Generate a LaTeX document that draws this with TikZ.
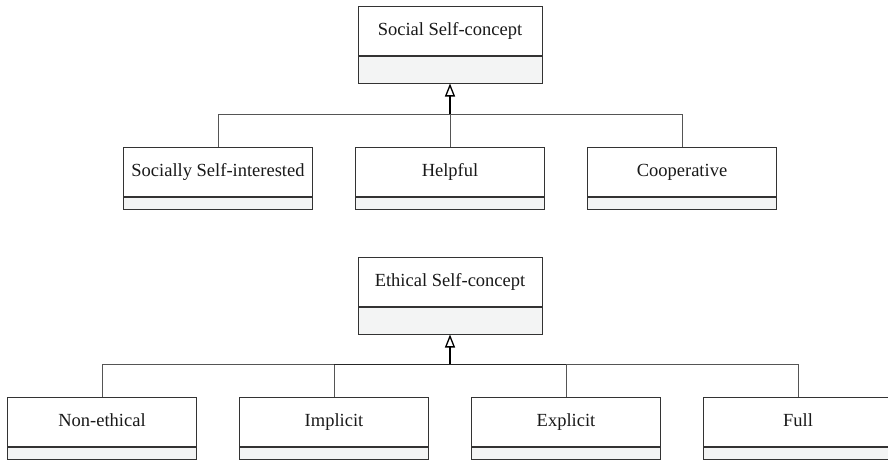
\documentclass[tikz,border=0pt]{standalone}
\usepackage{fontspec}
\setmainfont{Liberation Serif}
\usetikzlibrary{arrows.meta}
\definecolor{boxline}{HTML}{333333}
\definecolor{linkline}{HTML}{555555}
\definecolor{compfill}{HTML}{F3F4F4}
\tikzset{
  classname/.style={draw=boxline, line width=1pt, fill=white, minimum height=49pt,
    inner sep=0pt, text height=13pt, text depth=3pt,
    font=\fontsize{18.5}{20}\selectfont, text=black!90},
  classops/.style={draw=boxline, line width=1pt, fill=compfill, inner sep=0pt,
    anchor=north},
  link/.style={draw=linkline, line width=1pt},
  generalization/.style={draw=black, line width=1.5pt,
    -{Triangle[open, width=10pt, length=13pt, line width=1.3pt]}, fill=white}
}
\begin{document}
\begin{tikzpicture}[x=1pt, y=-1pt]
\useasboundingbox (0,0) rectangle (888,459);
\clip (0,0) rectangle (888,459);

% Social self-concept hierarchy
\node[classname, minimum width=184pt] (social) at (450,30.5) {Social Self-concept};
\node[classops, minimum width=184pt, minimum height=27pt] (socialops) at (social.south) {};

\node[classname, minimum width=189pt] (selfint) at (218,171.5) {Socially Self-interested};
\node[classops, minimum width=189pt, minimum height=12pt] (selfintops) at (selfint.south) {};
\node[classname, minimum width=189pt] (helpful) at (450,171.5) {Helpful};
\node[classops, minimum width=189pt, minimum height=12pt] (helpfulops) at (helpful.south) {};
\node[classname, minimum width=189pt] (coop) at (682,171.5) {Cooperative};
\node[classops, minimum width=189pt, minimum height=12pt] (coopops) at (coop.south) {};

\coordinate (socialbus) at (450,114);
\draw[link] (selfint.north) |- (socialbus);
\draw[link] (coop.north) |- (socialbus);
\draw[link] (helpful.north) -- (socialbus);
\draw[generalization] (socialbus) -- (socialops.south);

% Ethical self-concept hierarchy
\node[classname, minimum width=184pt] (ethical) at (450,281.5) {Ethical Self-concept};
\node[classops, minimum width=184pt, minimum height=27pt] (ethicalops) at (ethical.south) {};

\node[classname, minimum width=189pt] (nonethical) at (102,421.5) {Non-ethical};
\node[classops, minimum width=189pt, minimum height=12pt] (nonethicalops) at (nonethical.south) {};
\node[classname, minimum width=189pt] (implicit) at (334,421.5) {Implicit};
\node[classops, minimum width=189pt, minimum height=12pt] (implicitops) at (implicit.south) {};
\node[classname, minimum width=189pt] (explicit) at (566,421.5) {Explicit};
\node[classops, minimum width=189pt, minimum height=12pt] (explicitops) at (explicit.south) {};
\node[classname, minimum width=189pt] (full) at (798,421.5) {Full};
\node[classops, minimum width=189pt, minimum height=12pt] (fullops) at (full.south) {};

\coordinate (ethicalbus) at (450,364);
\draw[link] (nonethical.north) |- (ethicalbus);
\draw[link] (full.north) |- (ethicalbus);
\draw[link] (implicit.north) |- (ethicalbus);
\draw[link] (explicit.north) |- (ethicalbus);
\draw[link, draw=black!85] (implicit.north |- ethicalbus) -- (explicit.north |- ethicalbus);
\draw[generalization] (ethicalbus) -- (ethicalops.south);
\end{tikzpicture}
\end{document}
